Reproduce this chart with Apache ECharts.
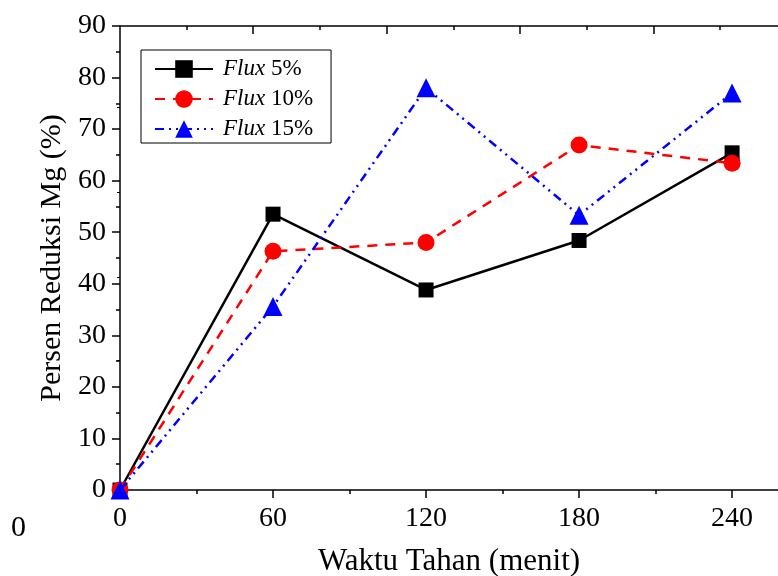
<!DOCTYPE html>
<html><head><meta charset="utf-8">
<script src="https://cdn.jsdelivr.net/npm/echarts@6/dist/echarts.min.js"></script>
<style>html,body{margin:0;padding:0;background:#fff}#c{width:778px;height:576px}</style>
</head><body><div id="c"></div>
<script>
const times = [0, 60, 120, 180, 240];
const flux5 = [0, 53.5, 38.8, 48.4, 65.4];
const flux10 = [0, 46.3, 48.0, 66.9, 63.4];
const flux15 = [0, 35.6, 78.0, 53.3, 77.0];
const seriesNames = ['Flux 5%', 'Flux 10%', 'Flux 15%'];
const xMajorTicks = [0, 60, 120, 180, 240];
const xMinorTicks = [30, 90, 150, 210];
const topMajorTicks = [52.2, 104.5, 156.9, 209.2];
const topMinorTicks = [26.2, 78.4, 130.7, 183.0, 235.3];
const rightStrayTicks = [74.3, 57.7, 41.2, 25.1];

const FONT = 'Liberation Serif';
const pairs = a => times.map((t, i) => [t, a[i]]);
const chart = echarts.init(document.getElementById('c'), null, {renderer: 'canvas'});
const axisBase = {
  type: 'value', min: 0, max: 258, splitLine: {show: false},
  axisLine: {lineStyle: {color: '#000', width: 1.5}}
};
chart.setOption({
  animation: false,
  backgroundColor: '#fff',
  grid: {left: 120, right: 0, top: 26, bottom: 86, containLabel: false, outerBoundsMode: 'none'},
  graphic: [{type: 'text', left: 11, top: 513, style: {text: '0', font: '30px "Liberation Serif"', fill: '#000'}}],
  legend: {
    left: 141, top: 50, orient: 'vertical',
    borderColor: '#000', borderWidth: 1, borderRadius: 0,
    padding: [7, 18, 2, 13],
    itemWidth: 58, itemHeight: 22, itemGap: 6,
    data: seriesNames,
    formatter: n => '{i|Flux} ' + n.split(' ')[1],
    textStyle: {fontFamily: FONT, fontSize: 23, color: '#000', lineHeight: 24, padding: [0, 0, 0, 5],
      rich: {i: {fontStyle: 'italic', fontFamily: FONT, fontSize: 23, color: '#000'}}}
  },
  xAxis: [
    Object.assign({}, axisBase, {
      position: 'bottom',
      name: 'Waktu Tahan (menit)', nameLocation: 'middle', nameGap: 56,
      nameTextStyle: {fontFamily: FONT, fontSize: 31, color: '#000'},
      axisTick: {show: true, inside: false, length: 8, customValues: xMajorTicks, lineStyle: {color: '#000', width: 1.5}},
      axisLabel: {customValues: xMajorTicks, fontFamily: FONT, fontSize: 28, color: '#000', margin: 15}
    }),
    Object.assign({}, axisBase, {
      position: 'bottom', axisLine: {show: false},
      axisTick: {show: true, inside: false, length: 4, customValues: xMinorTicks, lineStyle: {color: '#000', width: 1.5}},
      axisLabel: {show: false}
    }),
    Object.assign({}, axisBase, {
      position: 'top',
      axisTick: {show: true, inside: true, length: 8, customValues: topMajorTicks, lineStyle: {color: '#000', width: 1.5}},
      axisLabel: {show: false}
    }),
    Object.assign({}, axisBase, {
      position: 'top', axisLine: {show: false},
      axisTick: {show: true, inside: true, length: 4, customValues: topMinorTicks, lineStyle: {color: '#000', width: 1.5}},
      axisLabel: {show: false}
    })
  ],
  yAxis: [
    {
      type: 'value', min: 0, max: 90, interval: 10, position: 'left',
      name: 'Persen Reduksi Mg (%)', nameLocation: 'middle', nameGap: 52,
      nameTextStyle: {fontFamily: FONT, fontSize: 30, color: '#000'},
      splitLine: {show: false},
      axisLine: {show: true, lineStyle: {color: '#000', width: 1.5}},
      axisTick: {show: true, inside: false, length: 8, lineStyle: {color: '#000', width: 1.5}},
      minorTick: {show: true, splitNumber: 2, length: 4, lineStyle: {color: '#000', width: 1.5}},
      axisLabel: {fontFamily: FONT, fontSize: 28, color: '#000', margin: 14}
    },
    {
      type: 'value', min: 0, max: 90, position: 'right',
      splitLine: {show: false}, axisLine: {show: false},
      axisTick: {show: true, inside: true, length: 3, customValues: rightStrayTicks, lineStyle: {color: '#000', width: 1}},
      axisLabel: {show: false}
    }
  ],
  series: [
    {name: seriesNames[0], type: 'line', data: pairs(flux5), symbol: 'rect', symbolSize: 15,
     itemStyle: {color: '#000'}, lineStyle: {color: '#000', width: 2.5, type: 'solid'}, z: 2},
    {name: seriesNames[1], type: 'line', data: pairs(flux10), symbol: 'circle', symbolSize: 17,
     itemStyle: {color: '#ff0000'}, lineStyle: {color: '#ff0000', width: 2.5, type: [10, 8]}, z: 3},
    {name: seriesNames[2], type: 'line', data: pairs(flux15), symbol: 'triangle', symbolSize: 19,
     itemStyle: {color: '#0000ff'}, lineStyle: {color: '#0000ff', width: 2.5, type: [9, 5, 2, 5, 2, 5]}, z: 4}
  ]
});
</script></body></html>
